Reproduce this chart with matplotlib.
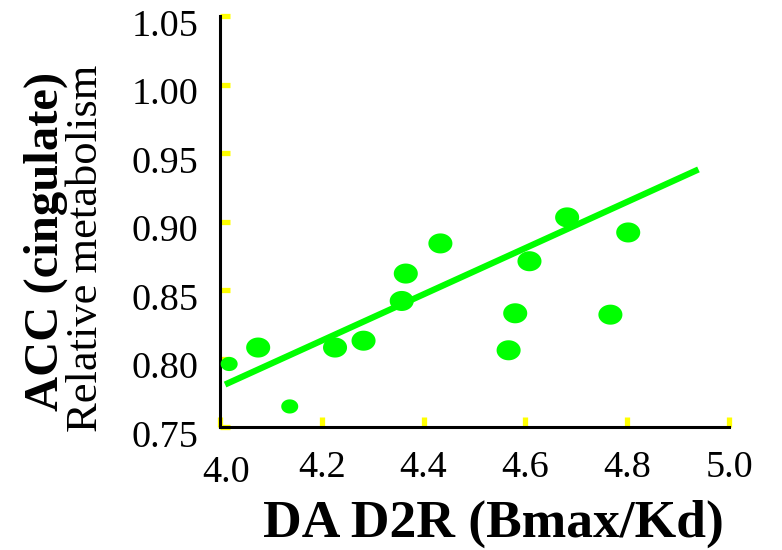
import numpy as np
import matplotlib
matplotlib.use("Agg")
import matplotlib.pyplot as plt
from matplotlib.path import Path
from matplotlib.transforms import ScaledTranslation

# ---- data ----
d2r = [4.018, 4.075, 4.137, 4.226, 4.282, 4.357, 4.365, 4.433,
       4.608, 4.682, 4.802, 4.580, 4.567, 4.767]
metab = [0.796, 0.808, 0.765, 0.808, 0.813, 0.842, 0.862, 0.884,
         0.871, 0.903, 0.892, 0.833, 0.806, 0.832]
fit_x = [4.01, 4.94]
fit_y = [0.781, 0.938]
xticks = [4.0, 4.2, 4.4, 4.6, 4.8, 5.0]
xticklabels = ["4.0", "4.2", "4.4", "4.6", "4.8", "5.0"]
yticks = [0.75, 0.80, 0.85, 0.90, 0.95, 1.00, 1.05]
yticklabels = ["0.75", "0.80", "0.85", "0.90", "0.95", "1.00", "1.05"]

# ---- style ----
GREEN = "#00ff00"
YELLOW = "#ffff00"
marker_sizes = [150, 300, 150, 300, 300, 300, 300, 300, 300, 300, 300, 300, 300, 300]

plt.rcParams['font.family'] = ['Liberation Serif', 'DejaVu Serif']

fig = plt.figure(figsize=(7.82, 5.50), dpi=100)
ax = fig.add_axes([220/782, 1-427/550, (729-220)/782, (427-16)/550])

# ellipse marker (wider than tall)
t = np.linspace(0, 2*np.pi, 60)
ell = Path(np.column_stack([1.2*np.cos(t), np.sin(t)]), closed=True)

ax.plot(fit_x, fit_y, color=GREEN, lw=4.5, solid_capstyle='butt', zorder=2)
ax.scatter(d2r, metab, s=marker_sizes, marker=ell, color=GREEN,
           edgecolors='none', zorder=3, clip_on=False)

ax.set_xlim(4.0, 5.0)
ax.set_ylim(0.75, 1.05)
for s in ['top', 'right']:
    ax.spines[s].set_visible(False)
for s in ['left', 'bottom']:
    ax.spines[s].set_linewidth(2.2)
    ax.spines[s].set_color('black')

ax.set_xticks(xticks)
ax.set_xticklabels(xticklabels)
ax.set_yticks(yticks)
ax.set_yticklabels(yticklabels)
ax.tick_params(axis='both', direction='in', length=7.5, width=3.8,
               color=YELLOW, labelsize=27.5)
ax.tick_params(axis='y', pad=15.5)
ax.tick_params(axis='x', pad=17)

# shift labels slightly as in the reference
for lbl in ax.get_yticklabels():
    lbl.set_transform(lbl.get_transform() + ScaledTranslation(0, -6.5/100, fig.dpi_scale_trans))
xl = ax.get_xticklabels()
xl[0].set_transform(xl[0].get_transform() + ScaledTranslation(6/100, -5/100, fig.dpi_scale_trans))

fig.text(58/782, 1-241/550, "ACC (cingulate)", rotation=90, rotation_mode='anchor',
         ha='center', va='baseline', fontsize=35, fontweight='bold')
fig.text(97/782, 1-248/550, "Relative metabolism", rotation=90, rotation_mode='anchor',
         ha='center', va='baseline', fontsize=32)
fig.text(493/782, 1-537/550, "DA D2R (Bmax/Kd)", ha='center', va='baseline',
         fontsize=38.5, fontweight='bold')

fig.savefig("out.png", dpi=100)
